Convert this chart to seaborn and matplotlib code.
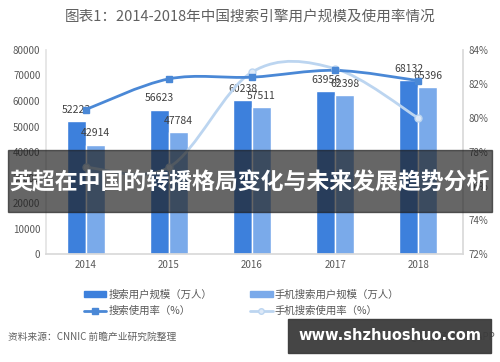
import numpy as np
import pandas as pd
import matplotlib
matplotlib.use('Agg')
import matplotlib.pyplot as plt
import seaborn as sns
from matplotlib.path import Path
from matplotlib.patches import PathPatch, Rectangle
from matplotlib.lines import Line2D
from matplotlib.patches import Patch

years = ['2014', '2015', '2016', '2017', '2018']
search_users = [52223, 56623, 60238, 63956, 68132]
mobile_users = [42914, 47784, 57511, 62398, 65396]
search_rate = [80.5, 82.3, 82.4, 82.8, 82.2]
mobile_rate = [77.1, 77.1, 82.7, 82.9, 80.0]

left_ticks = [0, 10000, 20000, 30000, 40000, 50000, 60000, 70000, 80000]
right_ticks = [72, 74, 76, 78, 80, 82, 84]

c_dark = '#3d80dc'
c_light = '#7aaaea'
c_line_dark = '#4a88d6'
c_line_light = '#bcd5f0'
c_text = '#595959'

sns.set_theme(style='white')
plt.rcParams['font.family'] = ['Noto Sans CJK SC', 'DejaVu Sans']


def smooth_path(xs, ys):
    # excel-like smoothed line, bezier segments between the points
    xs = list(xs)
    ys = list(ys)
    n = len(xs)
    verts = [(xs[0], ys[0])]
    codes = [Path.MOVETO]
    for i in range(n - 1):
        x0, y0 = (xs[i - 1], ys[i - 1]) if i > 0 else (xs[i], ys[i])
        x3, y3 = (xs[i + 2], ys[i + 2]) if i + 2 < n else (xs[i + 1], ys[i + 1])
        c1 = (xs[i] + (xs[i + 1] - x0) / 6, ys[i] + (ys[i + 1] - y0) / 6)
        c2 = (xs[i + 1] - (x3 - xs[i]) / 6, ys[i + 1] - (y3 - ys[i]) / 6)
        verts += [c1, c2, (xs[i + 1], ys[i + 1])]
        codes += [Path.CURVE4] * 3
    return Path(verts, codes)


df = pd.DataFrame({
    'year': years * 2,
    'users': search_users + mobile_users,
    'kind': ['搜索用户规模（万人）'] * 5 + ['手机搜索用户规模（万人）'] * 5,
})

fig = plt.figure(figsize=(5, 3.62), dpi=100)
ax = fig.add_axes([0.092, 0.298, 0.834, 0.564])

sns.barplot(data=df, x='year', y='users', hue='kind',
            palette=[c_dark, c_light], width=0.46, saturation=1,
            legend=False, ax=ax)

ax.set_ylim(0, 80000)
ax.set_xlim(-0.48, 4.54)
ax.set_yticks(left_ticks)
ax.set_yticklabels([str(t) for t in left_ticks])
ax.set_xlabel('')
ax.set_ylabel('')
ax.tick_params(axis='both', labelsize=7, colors=c_text, length=0, pad=4)
for s in ['top', 'right']:
    ax.spines[s].set_visible(False)
ax.spines['left'].set_color('#e4e4e4')
ax.spines['bottom'].set_color('#d9d9d9')

# value labels
for bars in ax.containers:
    for b in bars:
        h = b.get_height()
        ax.text(b.get_x() + b.get_width() / 2, h + 2400, f'{int(h)}',
                ha='center', va='bottom', fontsize=7.5, color='#404040')

ax2 = ax.twinx()
ax2.set_ylim(72, 84)
ax2.set_yticks(right_ticks)
ax2.set_yticklabels([f'{t}%' for t in right_ticks])
ax2.tick_params(axis='y', labelsize=7, colors=c_text, length=0, pad=4)
for s in ['top', 'left', 'bottom']:
    ax2.spines[s].set_visible(False)
ax2.spines['right'].set_color('#d9d9d9')
ax2.grid(False)

xpos = np.arange(len(years))
ax2.add_patch(PathPatch(smooth_path(xpos, mobile_rate), fill=False,
                        edgecolor=c_line_light, lw=2))
ax2.add_patch(PathPatch(smooth_path(xpos, search_rate), fill=False,
                        edgecolor=c_line_dark, lw=2))
ax2.plot(xpos, mobile_rate, ls='none', marker='o', ms=5,
         mfc='#dde9f8', mec=c_line_light, mew=1)
ax2.plot(xpos, search_rate, ls='none', marker='s', ms=4.5,
         mfc=c_line_dark, mec=c_line_dark)

fig.text(0.5, 0.953, '图表1：2014-2018年中国搜索引擎用户规模及使用率情况',
         ha='center', va='center', fontsize=10.5, color='#606060')

# legend columns are filled top to bottom
handles = [
    Patch(color=c_dark, label='搜索用户规模（万人）'),
    Line2D([], [], color=c_line_dark, lw=2, marker='s', ms=4,
           label='搜索使用率（%）'),
    Patch(color=c_light, label='手机搜索用户规模（万人）'),
    Line2D([], [], color=c_line_light, lw=2, marker='o', ms=4,
           mfc='#dde9f8', label='手机搜索使用率（%）'),
]
fig.legend(handles=handles, ncol=2, loc='upper left',
           bbox_to_anchor=(0.167, 0.2), frameon=False, fontsize=7.5,
           handlelength=2.2, handleheight=0.5, handletextpad=0.2,
           columnspacing=3.6, labelspacing=0.6, labelcolor=c_text,
           borderaxespad=0, borderpad=0)

fig.text(0.016, 0.069, '资料来源：CNNIC 前瞻产业研究院整理', ha='left',
         va='center', fontsize=7, color='#606060', style='italic')
fig.text(0.99, 0.069, '@前瞻经济学人APP', ha='right', va='center',
         fontsize=7, color='#606060')

# overlay banner
fig.patches.append(Rectangle((0.016, 0.414), 0.968, 0.171,
                             transform=fig.transFigure, color='#1e1e1e',
                             alpha=0.68, zorder=10))
fig.text(0.5, 0.494, '英超在中国的转播格局变化与未来发展趋势分析',
         ha='center', va='center', fontsize=16.5, fontweight='bold',
         color='white', zorder=11)

fig.patches.append(Rectangle((0.576, 0.025), 0.406, 0.094,
                             transform=fig.transFigure, color='#3b3b3b',
                             alpha=0.95, zorder=10))
fig.text(0.779, 0.072, 'www.shzhuoshuo.com', ha='center', va='center',
         fontsize=10.5, fontweight='bold', color='white',
         family=['DejaVu Sans'], zorder=11)

fig.savefig('out.png', dpi=100)
